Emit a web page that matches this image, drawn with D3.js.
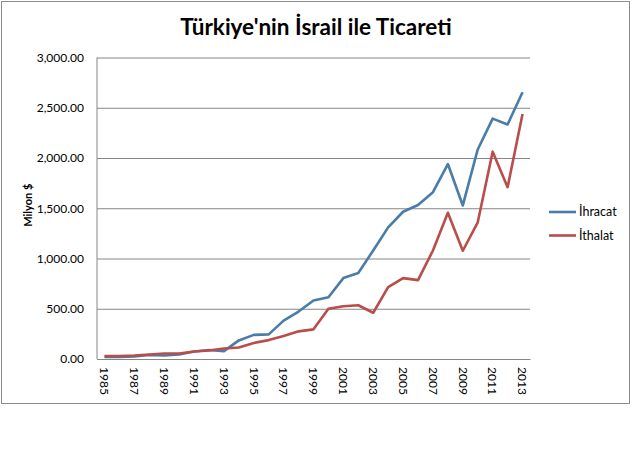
<!DOCTYPE html>
<html>
<head>
<meta charset="utf-8">
<script src="https://cdn.jsdelivr.net/npm/d3@7"></script>
<style>
  body { margin: 0; background: #fff; }
  text { font-family: Lato, "Open Sans", sans-serif; fill: #000; }
</style>
</head>
<body>
<div id="chart-area"><svg></svg></div>
<script>
const chartSize = { width: 632, height: 460 };
const margin = { left: 97, right: 102, top: 57.5, bottom: 101 };
const width = chartSize.width - margin.left - margin.right;
const height = chartSize.height - margin.top - margin.bottom;

const years = d3.range(1985, 2014).map(String);
const yTicks = [0, 500, 1000, 1500, 2000, 2500, 3000];

const ihracat = [20, 20, 25, 40, 35, 45, 75, 90, 78, 185, 240, 245, 382, 472, 582, 615, 805, 855, 1080, 1310, 1465, 1532, 1660, 1940, 1528, 2085, 2392, 2333, 2655];
const ithalat = [30, 30, 35, 45, 55, 55, 75, 85, 105, 115, 160, 188, 230, 275, 295, 500, 525, 535, 460, 715, 805, 785, 1080, 1455, 1077, 1360, 2063, 1710, 2438];

const seriesNames = ["İhracat", "İthalat"];
const colours = ["#4a7caa", "#b94d4a"];

const svg = d3
  .select("#chart-area svg")
  .attr("width", chartSize.width)
  .attr("height", chartSize.height);

svg.append("rect")
  .attr("x", 1.5).attr("y", 1.5)
  .attr("width", 628).attr("height", 402)
  .attr("fill", "none")
  .attr("stroke", "#8c8c8c");

svg.append("text")
  .attr("x", 316)
  .attr("y", 35)
  .attr("text-anchor", "middle")
  .attr("font-weight", "bold")
  .attr("font-size", 22.5)
  .text("Türkiye'nin İsrail ile Ticareti");

const g = svg
  .append("g")
  .attr("transform", `translate(${margin.left},${margin.top})`);

const x = d3.scaleBand().range([0, width]).domain(years);
const y = d3.scaleLinear().range([height, 0]).domain([0, 3000]);

// gridlines + y labels
const yAxis = d3.axisLeft(y)
  .tickValues(yTicks)
  .tickFormat(d3.format(",.2f"))
  .tickSize(-width)
  .tickPadding(13);
const yg = g.append("g").attr("class", "y-axis").call(yAxis);
yg.select(".domain").remove();
yg.selectAll("line").attr("stroke", "#868686");
yg.selectAll("text").attr("font-size", 12).attr("fill", "#111");

g.append("line")
  .attr("x1", 0).attr("x2", 0)
  .attr("y1", 0).attr("y2", height)
  .attr("stroke", "#868686");

// x labels, every other year
const xAxis = d3.axisBottom(x)
  .tickValues(years.filter((d, i) => i % 2 === 0))
  .tickSize(0);
const xg = g.append("g")
  .attr("class", "x-axis")
  .attr("transform", `translate(0,${height})`)
  .call(xAxis);
xg.select(".domain").attr("stroke", "#868686");
xg.selectAll("text")
  .attr("font-size", 12)
  .attr("fill", "#111")
  .attr("transform", "rotate(90)")
  .attr("x", 8)
  .attr("y", 0)
  .attr("dy", "0.35em")
  .attr("text-anchor", "start");

svg.append("text")
  .attr("transform", `translate(32,${margin.top + height / 2 - 3}) rotate(-90)`)
  .attr("text-anchor", "middle")
  .attr("font-weight", "bold")
  .attr("font-size", 11)
  .text("Milyon $");

const line = d3.line()
  .x((d, i) => x(years[i]) + x.bandwidth() / 2)
  .y(d => y(d));

[ihracat, ithalat].forEach((s, k) => {
  g.append("path")
    .datum(s)
    .attr("fill", "none")
    .attr("stroke", colours[k])
    .attr("stroke-width", 2.6)
    .attr("stroke-linejoin", "round")
    .attr("d", line);
});

// legend
const legend = svg.append("g").attr("transform", "translate(549,212)");
seriesNames.forEach((name, k) => {
  const row = legend.append("g").attr("transform", `translate(0,${k * 23.5})`);
  row.append("line")
    .attr("x1", 0).attr("x2", 27)
    .attr("stroke", colours[k])
    .attr("stroke-width", 2.6);
  row.append("text")
    .attr("x", 30)
    .attr("dy", "0.35em")
    .attr("font-size", 12.5)
    .text(name);
});
</script>
</body>
</html>
